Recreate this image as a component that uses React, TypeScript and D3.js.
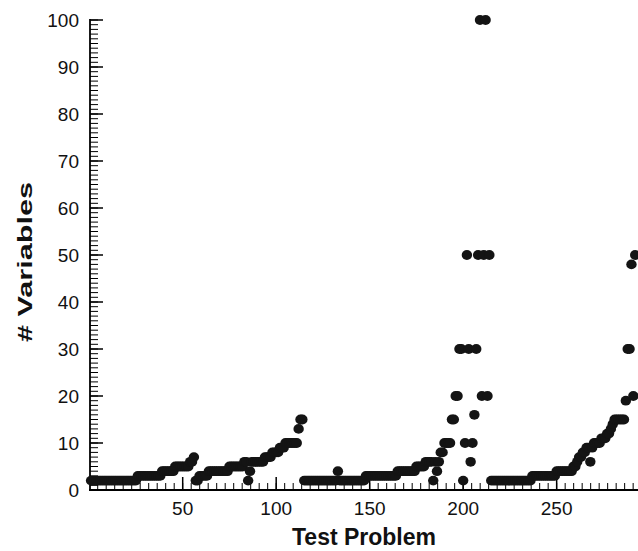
import React from 'react';
import * as d3 from 'd3';

// # Variables for each test problem (problem number = index + 1)
const numVariables: number[] = [
  2, 2, 2, 2, 2, 2, 2, 2, 2, 2,
  2, 2, 2, 2, 2, 2, 2, 2, 2, 2,
  2, 2, 2, 2, 2, 3, 3, 3, 3, 3,
  3, 3, 3, 3, 3, 3, 3, 3, 4, 4,
  4, 4, 4, 4, 4, 5, 5, 5, 5, 5,
  5, 5, 5, 6, 6, 7, 2, 2, 3, 3,
  3, 3, 3, 4, 4, 4, 4, 4, 4, 4,
  4, 4, 4, 4, 5, 5, 5, 5, 5, 5,
  5, 5, 6, 6, 2, 4, 6, 6, 6, 6,
  6, 6, 6, 7, 7, 7, 7, 8, 8, 8,
  8, 9, 9, 9, 10, 10, 10, 10, 10, 10,
  10, 13, 15, 15, 2, 2, 2, 2, 2, 2,
  2, 2, 2, 2, 2, 2, 2, 2, 2, 2,
  2, 2, 4, 2, 2, 2, 2, 2, 2, 2,
  2, 2, 2, 2, 2, 2, 2, 3, 3, 3,
  3, 3, 3, 3, 3, 3, 3, 3, 3, 3,
  3, 3, 3, 3, 4, 4, 4, 4, 4, 4,
  4, 4, 4, 4, 5, 5, 5, 5, 5, 6,
  6, 6, 6, 2, 6, 4, 6, 8, 8, 10,
  10, 10, 10, 15, 15, 20, 20, 30, 30, 2,
  10, 50, 30, 6, 10, 16, 30, 50, 100, 20,
  50, 100, 20, 50, 2, 2, 2, 2, 2, 2,
  2, 2, 2, 2, 2, 2, 2, 2, 2, 2,
  2, 2, 2, 2, 2, 2, 3, 3, 3, 3,
  3, 3, 3, 3, 3, 3, 3, 3, 3, 4,
  4, 4, 4, 4, 4, 4, 4, 4, 5, 5,
  6, 7, 7, 8, 8, 9, 9, 6, 9, 10,
  10, 10, 10, 11, 11, 11, 12, 12, 13, 14,
  15, 15, 15, 15, 15, 15, 19, 30, 30, 48,
  20, 50,
];

const xTickValues = [50, 100, 150, 200, 250];
const yTickValues = [0, 10, 20, 30, 40, 50, 60, 70, 80, 90, 100];
const xMinorStep = 50 / 11;
const yMinorStep = 1;

const FONT = '"Liberation Sans", Arial, Helvetica, sans-serif';

export default function App() {
  const W = 638;
  const H = 551;
  const x = d3.scaleLinear().domain([0, 293.5]).range([89.2, 638]);
  const y = d3.scaleLinear().domain([0, 100]).range([490, 20]);
  const axisX = 90;
  const axisY = 490;

  const xMinor: number[] = [];
  for (let v = xMinorStep; v <= 293.5; v += xMinorStep) xMinor.push(v);
  const yMinor: number[] = [];
  for (let v = 0; v <= 100; v += yMinorStep) yMinor.push(v);

  return (
    <svg width={W} height={H} style={{ position: 'absolute', left: 0, top: 0, background: '#fff' }}>
      {/* y minor ticks */}
      {yMinor.map((v) => (
        <line key={'ym' + v} x1={axisX} x2={axisX + 8} y1={y(v)} y2={y(v)} stroke="#000" strokeWidth={1} />
      ))}
      {/* y major ticks */}
      {yTickValues.map((v) => (
        <line key={'yM' + v} x1={axisX} x2={axisX + 13} y1={y(v)} y2={y(v)} stroke="#000" strokeWidth={1.5} />
      ))}
      {/* x minor ticks */}
      {xMinor.map((v, i) => (
        <line key={'xm' + i} x1={x(v)} x2={x(v)} y1={axisY} y2={axisY - 7} stroke="#000" strokeWidth={1} />
      ))}
      {/* x major ticks */}
      {xTickValues.map((v) => (
        <line key={'xM' + v} x1={x(v)} x2={x(v)} y1={axisY} y2={axisY - 13} stroke="#000" strokeWidth={1.5} />
      ))}
      {/* axis lines */}
      <line x1={axisX} x2={axisX} y1={y(100) - 1} y2={axisY} stroke="#000" strokeWidth={1.8} />
      <line x1={axisX - 1} x2={W} y1={axisY} y2={axisY} stroke="#000" strokeWidth={1.8} />

      {/* data points */}
      {numVariables.map((v, i) => (
        <ellipse key={'p' + i} cx={x(i + 1)} cy={y(v)} rx={5.2} ry={4.9} fill="#141414" />
      ))}

      {/* tick labels */}
      {yTickValues.map((v) => (
        <text key={'yl' + v} x={79} y={y(v)} dy="0.35em" textAnchor="end" fontFamily={FONT} fontSize={19} fill="#111">
          {v}
        </text>
      ))}
      {xTickValues.map((v) => (
        <text key={'xl' + v} x={x(v)} y={515} textAnchor="middle" fontFamily={FONT} fontSize={19} fill="#111">
          {v}
        </text>
      ))}

      {/* axis titles */}
      <text x={364} y={545} textAnchor="middle" fontFamily={FONT} fontSize={23} fontWeight="bold" fill="#111">
        Test Problem
      </text>
      <text
        transform="translate(32,262) rotate(-90)"
        textAnchor="middle"
        fontFamily={FONT}
        fontSize={21}
        fontWeight="bold"
        fill="#111"
        textLength={160}
        lengthAdjust="spacingAndGlyphs"
      >
        # Variables
      </text>
    </svg>
  );
}
